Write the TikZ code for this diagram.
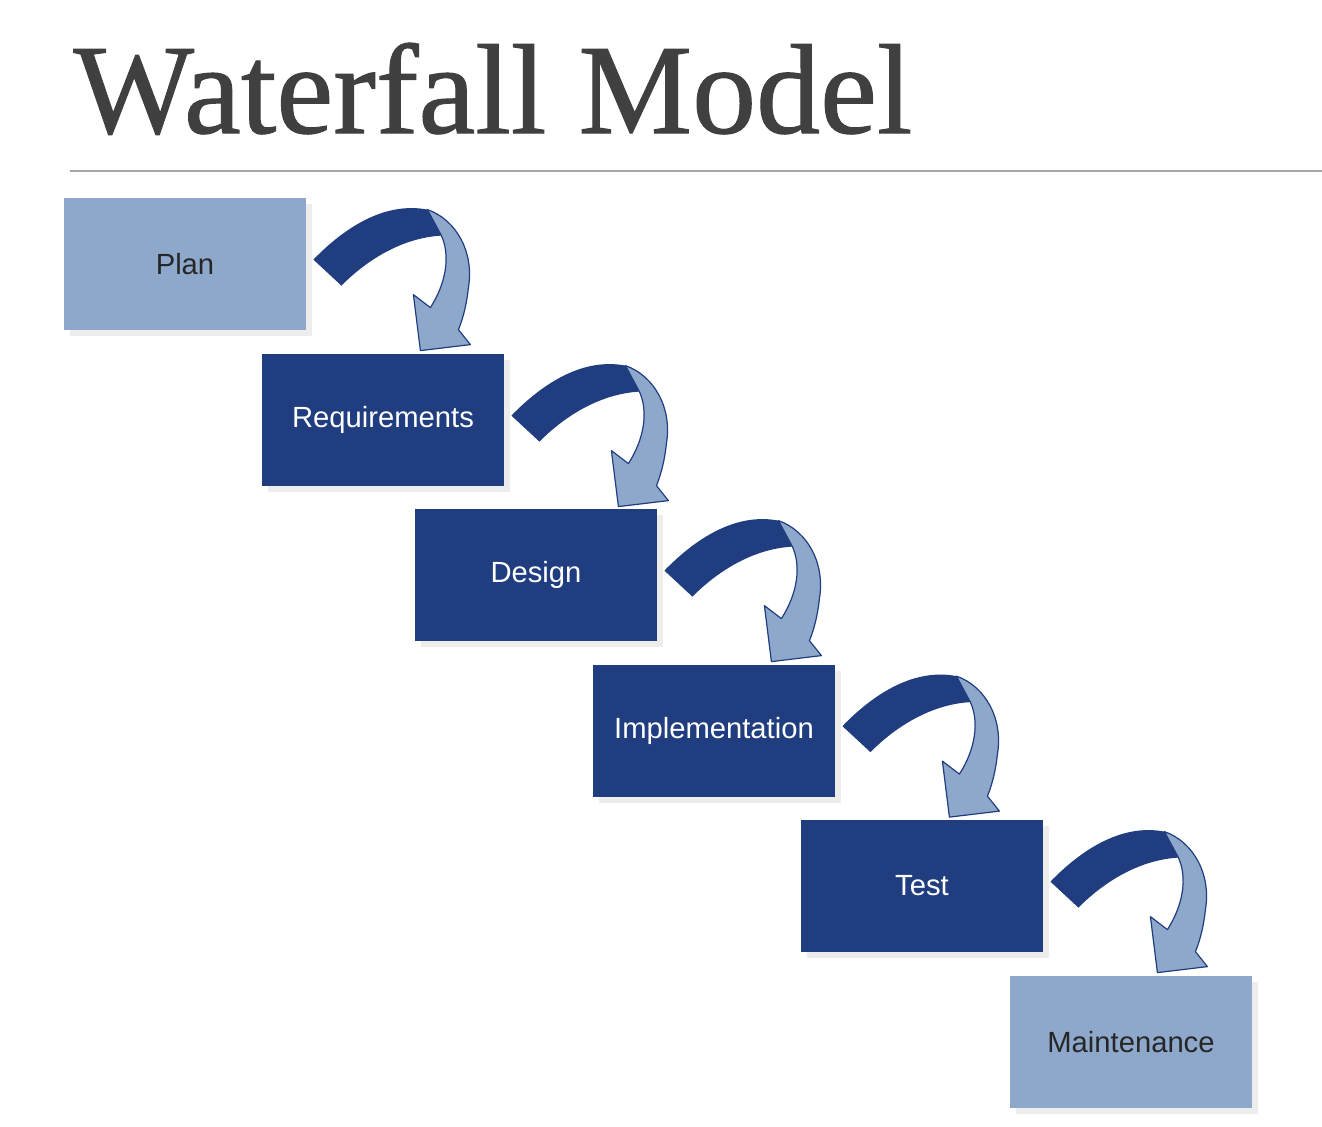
\documentclass[tikz,border=0pt]{standalone}
\usepackage{fontspec}
\setmainfont{Liberation Serif}
\setsansfont{Liberation Sans}
\newfontfamily\titlefont[FakeBold=0.8]{Liberation Serif}
\usetikzlibrary{shadows}
\definecolor{stagedark}{RGB}{31,61,127}
\definecolor{stagelight}{RGB}{142,168,204}
\definecolor{titlegray}{RGB}{64,64,64}
\tikzset{stage/.style={rectangle,minimum width=121pt,minimum height=66pt,inner sep=0,
  fill=stagedark,text=white,drop shadow={shadow xshift=3pt,shadow yshift=-3pt,opacity=.07,fill=black}},
 lightstage/.style={stage,fill=stagelight,text=black!85},
 every node/.style={font=\sffamily\fontsize{14.6}{17}\selectfont},
 fallarrow/.pic={
  \fill[stagedark] (7,62) .. controls (40,28) and (80,4) .. (121,12) -- (135,38)
   .. controls (100,40) and (65,58) .. (35,88) -- cycle;
  \filldraw[fill=stagelight,draw=stagedark,line width=.6pt,line join=round] (121,12)
   .. controls (150,22) and (168,55) .. (162,90) .. controls (160,110) and (155,125) .. (152,132)
   -- (164,147) -- (114,153) -- (107,97) -- (124,110)
   .. controls (140,85) and (144,58) .. (135,38) -- cycle;
 }}
\begin{document}
\begin{tikzpicture}[x=.5pt,y=-.5pt]
\useasboundingbox[fill=white] (0,0) rectangle (1322,1126);
\node[anchor=base west,inner sep=0,text=titlegray,font=\titlefont\fontsize{64}{70}\selectfont] (title) at (73,133) {Waterfall Model};
\draw[gray!70,line width=.6pt] (70,171) -- (1322,171);
% stages
\node[lightstage] (plan) at (185,264) {Plan};
\node[stage] (req) at (383,420) {Requirements};
\node[stage] (design) at (536,575) {Design};
\node[stage] (impl) at (714,730.5) {Implementation};
\node[stage] (test) at (922,886) {Test};
\node[lightstage] (maint) at (1131,1042) {Maintenance};
% arrows
\foreach \s in {plan,req,design,impl,test}
 \pic at (\s.north east) {fallarrow};
\end{tikzpicture}
\end{document}
